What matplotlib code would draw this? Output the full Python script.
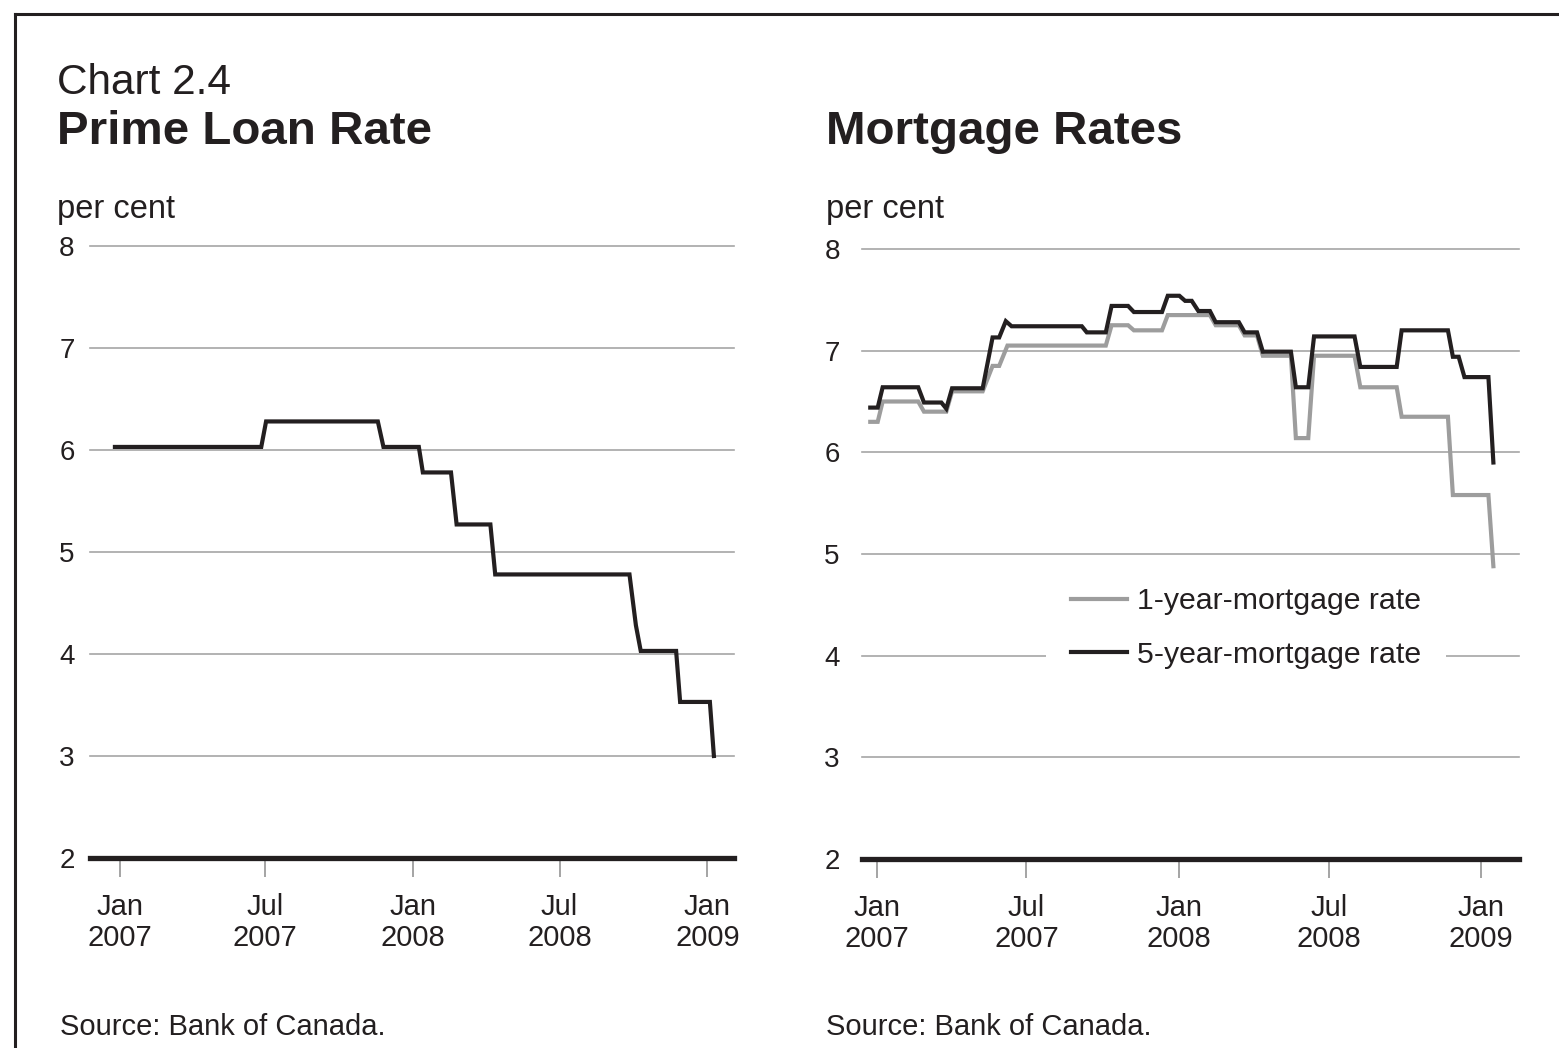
import pandas as pd
import matplotlib.pyplot as plt
from matplotlib.lines import Line2D

plt.rcParams['font.family'] = ['Liberation Sans', 'DejaVu Sans']

# prime loan rate (per cent)
prime_dates = ['2006-12-26', '2007-06-26', '2007-07-02', '2007-11-18', '2007-11-25',
               '2008-01-08', '2008-01-13', '2008-02-17', '2008-02-24', '2008-04-06',
               '2008-04-12', '2008-09-26', '2008-10-04', '2008-10-10', '2008-11-23',
               '2008-11-28', '2009-01-04', '2009-01-09']
prime_vals = [6.03, 6.03, 6.28, 6.28, 6.03, 6.03, 5.78, 5.78, 5.27, 5.27,
              4.78, 4.78, 4.28, 4.03, 4.03, 3.53, 3.53, 3.0]

# 1-year mortgage rate
one_dates = ['2006-12-24', '2007-01-02', '2007-01-08', '2007-02-20', '2007-02-27',
             '2007-03-26', '2007-04-02', '2007-05-09', '2007-05-21', '2007-05-29',
             '2007-06-08', '2007-10-05', '2007-10-12', '2007-11-01', '2007-11-08',
             '2007-12-12', '2007-12-19', '2008-02-08', '2008-02-15', '2008-03-14',
             '2008-03-21', '2008-04-05', '2008-04-12', '2008-05-16', '2008-05-22',
             '2008-06-06', '2008-06-13', '2008-08-01', '2008-08-08', '2008-09-21',
             '2008-09-27', '2008-11-22', '2008-11-28', '2009-01-10', '2009-01-16']
one_vals = [6.30, 6.30, 6.50, 6.50, 6.40, 6.40, 6.60, 6.60, 6.85, 6.85,
            7.05, 7.05, 7.25, 7.25, 7.20, 7.20, 7.35, 7.35, 7.25, 7.25,
            7.15, 7.15, 6.95, 6.95, 6.14, 6.14, 6.95, 6.95, 6.64, 6.64,
            6.35, 6.35, 5.58, 5.58, 4.88]

# 5-year mortgage rate
five_dates = ['2006-12-24', '2007-01-02', '2007-01-08', '2007-02-20', '2007-02-27',
              '2007-03-20', '2007-03-26', '2007-04-02', '2007-05-09', '2007-05-21',
              '2007-05-29', '2007-06-06', '2007-06-13', '2007-09-06', '2007-09-12',
              '2007-10-05', '2007-10-12', '2007-11-01', '2007-11-08', '2007-12-12',
              '2007-12-19', '2008-01-02', '2008-01-09', '2008-01-17', '2008-01-25',
              '2008-02-08', '2008-02-15', '2008-03-14', '2008-03-21', '2008-04-05',
              '2008-04-12', '2008-05-16', '2008-05-22', '2008-06-06', '2008-06-13',
              '2008-08-01', '2008-08-08', '2008-09-21', '2008-09-27', '2008-11-22',
              '2008-11-28', '2008-12-05', '2008-12-12', '2009-01-10', '2009-01-16']
five_vals = [6.44, 6.44, 6.64, 6.64, 6.49, 6.49, 6.43, 6.63, 6.63, 7.13,
             7.13, 7.29, 7.24, 7.24, 7.18, 7.18, 7.44, 7.44, 7.38, 7.38,
             7.54, 7.54, 7.49, 7.49, 7.39, 7.39, 7.28, 7.28, 7.18, 7.18,
             6.99, 6.99, 6.64, 6.64, 7.14, 7.14, 6.84, 6.84, 7.20, 7.20,
             6.94, 6.94, 6.74, 6.74, 5.90]

tick_dates = ['2007-01-01', '2007-07-01', '2008-01-01', '2008-07-01', '2009-01-01']
tick_labels = ['Jan\n2007', 'Jul\n2007', 'Jan\n2008', 'Jul\n2008', 'Jan\n2009']
yticks = [2, 3, 4, 5, 6, 7, 8]

W, H = 1559, 1048
dark = '#231f20'
grey_line = '#9d9d9d'
grid_col = '#a6a6a6'

fig = plt.figure(figsize=(W / 100, H / 100), dpi=100)


def fx(x):
    return x / W


def fy(y):
    return 1 - y / H


def setup(ax, xlim, ypad):
    ax.set_xlim(pd.Timestamp(xlim[0]), pd.Timestamp(xlim[1]))
    ax.set_ylim(2, 8)
    for s in ax.spines.values():
        s.set_visible(False)
    for v in yticks[1:]:
        ax.axhline(v, color=grid_col, lw=1.2, clip_on=False, zorder=1)
    ax.axhline(2, color=dark, lw=3.8, clip_on=False, zorder=3)
    ax.set_yticks(yticks)
    ax.set_yticklabels([str(v) for v in yticks])
    ax.tick_params(axis='y', length=0, pad=ypad, labelsize=20, labelcolor=dark)
    ax.set_xticks(pd.to_datetime(tick_dates))
    ax.set_xticklabels(tick_labels, linespacing=1.15)
    ax.tick_params(axis='x', direction='out', length=14, width=1.1, color='#8c8c8c',
                   pad=11, labelsize=21, labelcolor=dark)
    ax.set_facecolor('none')


# left panel
ax1 = fig.add_axes([fx(90), fy(858), fx(734) - fx(90), fy(246) - fy(858)])
setup(ax1, ('2006-11-25', '2009-02-03'), 11)
ax1.plot(pd.to_datetime(prime_dates), prime_vals, color=dark, lw=3, zorder=4,
         solid_joinstyle='miter')

# right panel
ax2 = fig.add_axes([fx(862), fy(859), fx(1519) - fx(862), fy(249) - fy(859)])
setup(ax2, ('2006-12-14', '2009-02-16'), 16)
ax2.plot(pd.to_datetime(one_dates), one_vals, color=grey_line, lw=3, zorder=4,
         label='1-year-mortgage rate', solid_joinstyle='miter')
ax2.plot(pd.to_datetime(five_dates), five_vals, color=dark, lw=3, zorder=5,
         label='5-year-mortgage rate', solid_joinstyle='miter')
leg = ax2.legend(loc='center', bbox_to_anchor=((1246 - 862) / 657, (859 - 628) / 610),
                 frameon=True, framealpha=1, edgecolor='none', facecolor='white',
                 fancybox=False, fontsize=21.8, handlelength=1.85, handletextpad=0.35,
                 labelspacing=0.85, borderpad=0.8, borderaxespad=0)
leg.set_zorder(6)
for t in leg.get_texts():
    t.set_color(dark)

# titles and notes
fig.text(fx(57), fy(94), 'Chart 2.4', fontsize=30.5, color=dark, va='baseline')
fig.text(fx(57), fy(144), 'Prime Loan Rate', fontsize=34.2, fontweight='bold',
         color=dark, va='baseline')
fig.text(fx(826), fy(144), 'Mortgage Rates', fontsize=34.2, fontweight='bold',
         color=dark, va='baseline')
fig.text(fx(57), fy(218), 'per cent', fontsize=23.5, color=dark, va='baseline')
fig.text(fx(826), fy(218), 'per cent', fontsize=23.5, color=dark, va='baseline')
fig.text(fx(60), fy(1035), 'Source: Bank of Canada.', fontsize=21, color=dark,
         va='baseline')
fig.text(fx(826), fy(1035), 'Source: Bank of Canada.', fontsize=21, color=dark,
         va='baseline')

# frame
fig.add_artist(Line2D([fx(15), 1], [fy(14), fy(14)], color=dark, lw=2.2))
fig.add_artist(Line2D([fx(15), fx(15)], [fy(14), 0], color=dark, lw=2.2))

fig.savefig('out.png', dpi=100)
